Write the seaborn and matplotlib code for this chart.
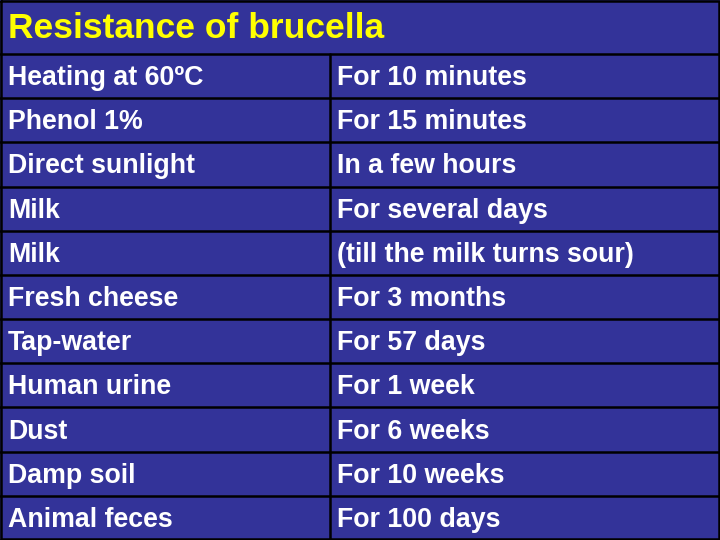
import matplotlib
matplotlib.use("Agg")
import matplotlib.pyplot as plt
import seaborn as sns

sns.set_theme(style="white")
plt.rcParams['font.family'] = ['Liberation Sans', 'DejaVu Sans']

title = "Resistance of brucella"
conditions = ["Heating at 60ºC", "Phenol 1%", "Direct sunlight", "Milk", "Milk",
              "Fresh cheese", "Tap-water", "Human urine", "Dust", "Damp soil", "Animal feces"]
durations = ["For 10 minutes", "For 15 minutes", "In a few hours", "For several days",
             "(till the milk turns sour)", "For 3 months", "For 57 days", "For 1 week",
             "For 6 weeks", "For 10 weeks", "For 100 days"]

bg = "#333399"
fig = plt.figure(figsize=(7.2, 5.4), dpi=100, facecolor=bg)
ax = fig.add_axes([0, 0, 1, 1])
ax.set_facecolor(bg)
ax.set_xlim(0, 720)
ax.set_ylim(540, 0)
ax.axis("off")

top = 54
n = len(conditions)
rh = (540 - top) / n
lw = 1.8
ax.plot([1, 719, 719, 1, 1], [1, 1, 539, 539, 1], color="black", lw=lw)
ax.text(8, 29, title, color="#FFFF00", fontsize=25.5, fontweight="bold", va="center", ha="left")
for i in range(n + 1):
    y = top + i * rh
    ax.plot([0, 720], [y, y], color="black", lw=lw)
ax.plot([330, 330], [top, 540], color="black", lw=lw)
for i, (c, d) in enumerate(zip(conditions, durations)):
    y = top + (i + 0.5) * rh + 2
    ax.text(8, y, c, color="white", fontsize=19.3, fontweight="bold", va="center", ha="left")
    ax.text(337, y, d, color="white", fontsize=19.3, fontweight="bold", va="center", ha="left")

fig.savefig("out.png", dpi=100, facecolor=bg)
